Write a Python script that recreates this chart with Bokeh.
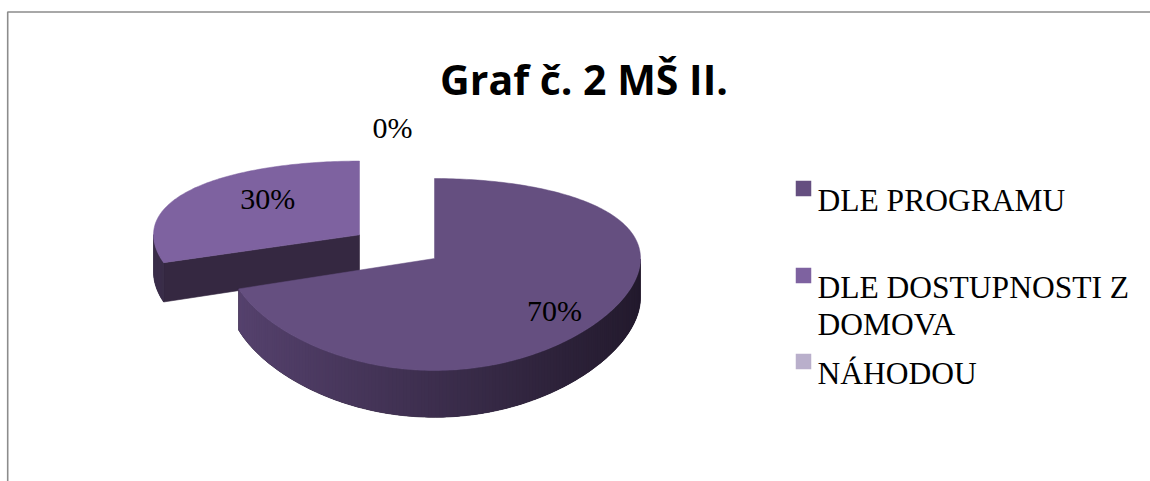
import numpy as np
from bokeh.plotting import figure
from bokeh.models import Range1d
from bokeh.embed import file_html
from bokeh.resources import INLINE
from bokeh.core.properties import value

# ---------------- data ----------------
title_text = "Graf č. 2 MŠ II."
categories = ["DLE PROGRAMU", "DLE DOSTUPNOSTI Z DOMOVA", "NÁHODOU"]
legend_lines = [["DLE PROGRAMU"], ["DLE DOSTUPNOSTI Z", "DOMOVA"], ["NÁHODOU"]]
values = [70, 30, 0]
pct_labels = ["70%", "30%", "0%"]
explode = [0.0, 0.45, 0.0]

# ---------------- style ----------------
top_colors = ["#654F80", "#7E62A0", "#B9AFCB"]
side_light = ["#56426E", "#3A2D49", "#8E84A0"]
side_dark = ["#231A2D", "#33273F", "#6E6480"]
radial_colors = ["#3A2C4A", "#352841", "#6E6480"]

W, H = 1150, 481
p = figure(width=W, height=H, x_range=Range1d(0, W), y_range=Range1d(H, 0),
           output_backend="svg", toolbar_location=None, min_border=0,
           x_axis_type=None, y_axis_type=None)
p.outline_line_color = None
p.background_fill_color = "white"
p.border_fill_color = "white"

# frame of the chart area
p.line(x=[7.2, 7.2, W], y=[H, 11.5, 11.5], line_color="#8C8C8C", line_width=1.6)

# ---------------- 3D pie projection ----------------
cx, cy = 434.0, 258.0
rx, ry = 206.0, 93.3
k = 1.0 / 6.0
D = 39.0


def proj(u, v):
    u = np.asarray(u, float)
    v = np.asarray(v, float)
    return cx + rx * u, cy - ry * v / (1 + k * v)


def depth(v):
    return D / (1 + k * np.asarray(v, float))


def hex2rgb(h):
    h = h.lstrip("#")
    return np.array([int(h[i:i + 2], 16) for i in (0, 2, 4)], float)


def lerp(c1, c2, t):
    c = hex2rgb(c1) * (1 - t) + hex2rgb(c2) * t
    return "#%02x%02x%02x" % tuple(int(round(x)) for x in c)


fr = np.array(values, float) / float(sum(values))
cum = np.concatenate([[0.0], np.cumsum(fr)])

slices = []
for i in range(len(values)):
    a0 = np.deg2rad(90 - 360 * cum[i])
    a1 = np.deg2rad(90 - 360 * cum[i + 1])
    b = (a0 + a1) / 2
    ou, ov = explode[i] * np.cos(b), explode[i] * np.sin(b)
    slices.append(dict(i=i, a0=a0, a1=a1, b=b, ou=ou, ov=ov))

draw = [s for s in slices if abs(s["a0"] - s["a1"]) > 1e-9]
draw.sort(key=lambda s: -(s["ov"] + 0.5 * np.sin(s["b"])))

for s in draw:
    i = s["i"]
    a0, a1, ou, ov = s["a0"], s["a1"], s["ou"], s["ov"]
    n = max(8, int(abs(np.rad2deg(a0 - a1)) * 1.0))
    t = np.linspace(a0, a1, n)
    u = ou + np.cos(t)
    v = ov + np.sin(t)
    x, y = proj(u, v)
    d = depth(v)

    # radial faces
    for ang, nrm in ((a0, a0 + np.pi / 2), (a1, a1 - np.pi / 2)):
        if np.sin(nrm) < -1e-6:
            ex, ey = proj(ou + np.cos(ang), ov + np.sin(ang))
            ed = depth(ov + np.sin(ang))
            vx, vy = proj(ou, ov)
            vd = depth(ov)
            p.patch(x=[float(vx), float(ex), float(ex), float(vx)],
                    y=[float(vy), float(ey), float(ey + ed), float(vy + vd)],
                    fill_color=radial_colors[i], line_color=radial_colors[i], line_width=0.6)

    # outer side (front-facing part): one base polygon + overlapping shaded strips
    front = [j for j in range(n - 1) if np.sin((t[j] + t[j + 1]) / 2) < 0]
    if front:
        j0, j1 = front[0], front[-1] + 1
        bx = list(map(float, x[j0:j1 + 1])) + list(map(float, x[j0:j1 + 1][::-1]))
        by = list(map(float, y[j0:j1 + 1])) + list(map(float, (y + d)[j0:j1 + 1][::-1]))
        p.patch(x=bx, y=by, fill_color=side_dark[i], line_color=side_dark[i], line_width=0.6)
        xs, ys, cols = [], [], []
        xmin, xmax = cx - rx, cx + rx
        for j in front:
            j2 = min(j + 2, j1)
            xm = (x[j] + x[j + 1]) / 2
            tt = float(np.clip((xm - xmin) / (xmax - xmin), 0, 1))
            cols.append(lerp(side_light[i], side_dark[i], tt))
            seg = slice(j, j2 + 1)
            xs.append(list(map(float, x[seg])) + list(map(float, x[seg][::-1])))
            ys.append(list(map(float, y[seg])) + list(map(float, (y + d)[seg][::-1])))
        p.patches(xs=xs, ys=ys, fill_color=cols, line_color=None)

    # top surface
    vx, vy = proj(ou, ov)
    p.patch(x=[float(vx)] + list(map(float, x)), y=[float(vy)] + list(map(float, y)),
            fill_color=top_colors[i], line_color=top_colors[i], line_width=0.5)

# ---------------- percentage labels ----------------
label_place = [(0.72, 0, 10), (0.55, 0, -10), (1.0, -42, -51)]
lx, ly = [], []
for s, (f, dx, dy) in zip(slices, label_place):
    px, py = proj(s["ou"] + f * np.cos(s["b"]), s["ov"] + f * np.sin(s["b"]))
    lx.append(float(px) + dx)
    ly.append(float(py) + dy)
p.text(x=lx, y=ly, text=pct_labels, text_align="center", text_baseline="middle",
       text_font=value("Liberation Serif"), text_font_size="30px", text_color="black")

# ---------------- title ----------------
p.text(x=[583.5], y=[78], text=[title_text], text_align="center", text_baseline="alphabetic",
       text_font=value("Open Sans"), text_font_style="bold", text_font_size="41px",
       text_color="black")

# ---------------- legend ----------------
legend_base = [200, 287, 373]
line_gap = 37
sq = 15.5
mx = 803
tx, ty, tt = [], [], []
for lines, yb in zip(legend_lines, legend_base):
    for m, ln in enumerate(lines):
        tx.append(817)
        ty.append(yb + m * line_gap)
        tt.append(ln)
p.rect(x=[mx] * len(categories), y=[yb - 12 for yb in legend_base], width=sq, height=sq,
       fill_color=top_colors, line_color=None)
p.text(x=tx, y=ty, text=tt, text_align="left", text_baseline="alphabetic",
       text_font=value("Liberation Serif"), text_font_size="31.5px", text_color="black")

open("out.html", "w").write(file_html(p, INLINE))
